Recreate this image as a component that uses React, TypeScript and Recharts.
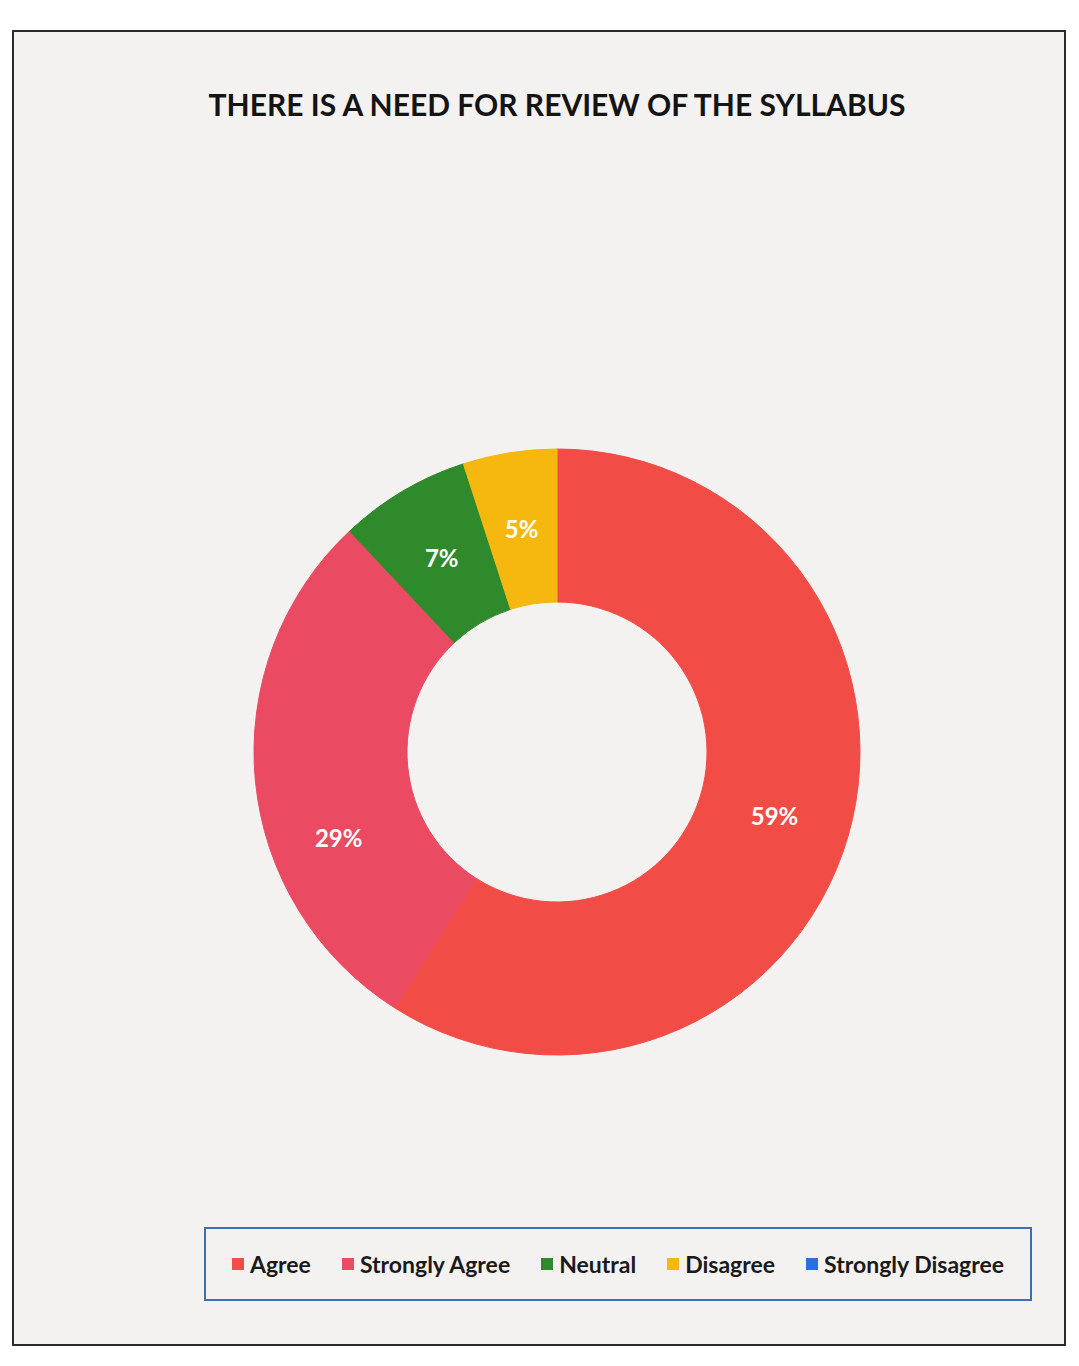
import { PieChart, Pie, Cell, Legend } from "recharts";

const categories = ["Agree", "Strongly Agree", "Neutral", "Disagree", "Strongly Disagree"];
const shares = [59, 29, 7, 5, 0];
const colors = ["#f24c47", "#ea4a62", "#2f8a2c", "#f6b80e", "#2a6fe0"];
const chartTitle = "THERE IS A NEED FOR REVIEW OF THE SYLLABUS";

const data = categories.map((name, i) => ({ name, value: shares[i] }));

const RADIAN = Math.PI / 180;

function renderLabel(props: any) {
  const { cx, cy, midAngle, innerRadius, outerRadius, value, name } = props;
  if (!value) return null;
  // the 29% label sits a bit lower in the original
  const angle = name === "Strongly Agree" ? midAngle + 16 : midAngle;
  const r = (innerRadius + outerRadius) / 2 + (name === "Strongly Agree" ? 8 : 0);
  const x = cx + r * Math.cos(-angle * RADIAN);
  const y = cy + r * Math.sin(-angle * RADIAN);
  return (
    <text
      x={x}
      y={y}
      fill="#ffffff"
      textAnchor="middle"
      dominantBaseline="central"
      fontFamily="Lato, sans-serif"
      fontWeight={700}
      fontSize={24}
    >
      {value}%
    </text>
  );
}

function LegendBox() {
  return (
    <div
      style={{
        display: "flex",
        alignItems: "center",
        justifyContent: "center",
        gap: 31,
        border: "2px solid #3d6fb0",
        height: 74,
        boxSizing: "border-box",
        fontFamily: "Lato, sans-serif",
        fontWeight: 700,
        fontSize: 23,
        color: "#1a1a1a",
      }}
    >
      {categories.map((c, i) => (
        <span key={c} style={{ display: "flex", alignItems: "center" }}>
          <span
            style={{
              width: 12,
              height: 12,
              background: colors[i],
              display: "inline-block",
              marginRight: 6,
            }}
          />
          {c}
        </span>
      ))}
    </div>
  );
}

export default function App() {
  return (
    <div style={{ paddingTop: 22, marginLeft: 4 }}>
      <div
        style={{
          width: 1050,
          height: 1312,
          border: "2px solid #2a2a2a",
          background: "#f4f2f1",
          position: "relative",
        }}
      >
        <div
          style={{
            position: "absolute",
            top: 54,
            left: 0,
            width: 1086,
            textAlign: "center",
            fontFamily: "Lato, sans-serif",
            fontWeight: 700,
            fontSize: 30,
            color: "#141414",
          }}
        >
          {chartTitle}
        </div>
        <PieChart width={1050} height={1312}>
          <Pie
            data={data}
            dataKey="value"
            nameKey="name"
            cx={538}
            cy={715}
            innerRadius={150}
            outerRadius={303}
            startAngle={90}
            endAngle={-270}
            label={renderLabel}
            labelLine={false}
            isAnimationActive={false}
          >
            {data.map((d, i) => (
              <Cell key={d.name} fill={colors[i]} stroke={colors[i]} strokeWidth={1} />
            ))}
          </Pie>
          <Legend
            content={() => <LegendBox />}
            wrapperStyle={{ position: "absolute", left: 190, top: 1195, width: 828 }}
          />
        </PieChart>
      </div>
    </div>
  );
}
